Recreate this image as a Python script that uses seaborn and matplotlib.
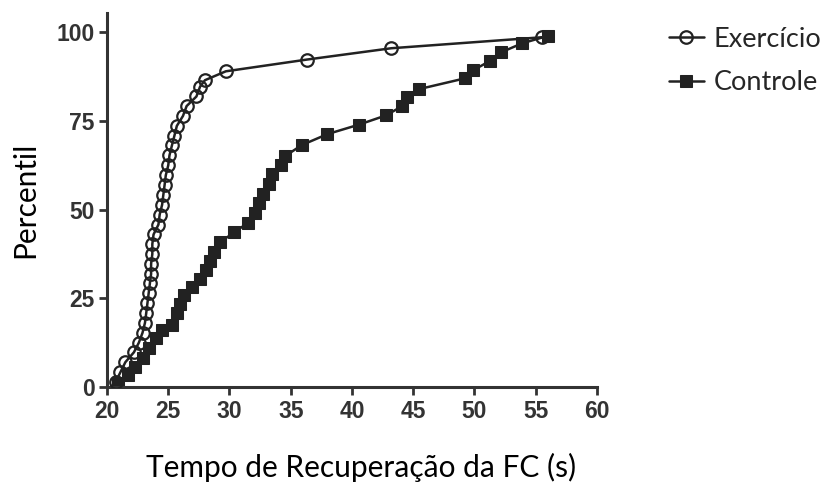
import matplotlib
matplotlib.use("Agg")
import matplotlib.pyplot as plt
import seaborn as sns
import pandas as pd

exercicio_x = [20.7, 21.1, 21.5, 22.2, 22.6, 22.9, 23.1, 23.2, 23.3, 23.4, 23.5, 23.6,
               23.6, 23.7, 23.7, 23.8, 24.2, 24.3, 24.5, 24.6, 24.7, 24.8, 25.0, 25.1,
               25.3, 25.5, 25.7, 26.2, 26.5, 27.3, 27.6, 28.0, 29.7, 36.3, 43.2, 55.5]
exercicio_y = [1.4, 4.2, 7.0, 9.8, 12.5, 15.3, 18.1, 20.8, 23.6, 26.4, 29.2, 31.9,
               34.7, 37.5, 40.3, 43.0, 45.8, 48.6, 51.4, 54.2, 56.9, 59.7, 62.5, 65.3,
               68.1, 70.8, 73.6, 76.4, 79.2, 81.9, 84.7, 86.5, 89.0, 92.3, 95.5, 98.6]

controle_x = [20.9, 21.7, 22.3, 22.9, 23.4, 24.0, 24.5, 25.3, 25.7, 26.0, 26.3, 26.9,
              27.6, 28.1, 28.4, 28.7, 29.2, 30.4, 31.5, 32.1, 32.4, 32.7, 33.2, 33.5,
              34.2, 34.5, 35.9, 38.0, 40.6, 42.8, 44.1, 44.5, 45.5, 49.2, 49.9, 51.3,
              52.2, 53.9, 56.0]
controle_y = [1.2, 3.4, 5.6, 8.3, 11.0, 13.8, 16.2, 17.5, 21.0, 23.5, 26.0, 28.2,
              30.5, 33.0, 35.5, 38.0, 40.8, 43.6, 46.3, 49.0, 51.8, 54.5, 57.2, 60.0,
              62.7, 65.0, 68.2, 71.3, 74.0, 76.6, 79.2, 81.8, 84.0, 87.0, 89.3, 92.0,
              94.4, 96.9, 99.0]

x_ticks = [20, 25, 30, 35, 40, 45, 50, 55, 60]
y_ticks = [0, 25, 50, 75, 100]
series_names = ["Exercício", "Controle"]

sns.set_style("ticks")
plt.rcParams['font.family'] = ['Liberation Sans', 'DejaVu Sans']

fig = plt.figure(figsize=(8.34, 4.86), dpi=100)
ax = fig.add_axes([0.1283, 0.2037, 0.5875, 0.770])

dark = "#222222"
df_e = pd.DataFrame({"x": exercicio_x, "y": exercicio_y})
df_c = pd.DataFrame({"x": controle_x, "y": controle_y})

sns.lineplot(data=df_e, x="x", y="y", ax=ax, estimator=None, sort=False,
             color=dark, linewidth=1.8, marker="o", markersize=9,
             markerfacecolor="none", markeredgecolor=dark, markeredgewidth=1.6,
             label=series_names[0], zorder=3)
sns.lineplot(data=df_c, x="x", y="y", ax=ax, estimator=None, sort=False,
             color=dark, linewidth=1.8, marker="s", markersize=8.5,
             markerfacecolor=dark, markeredgecolor=dark,
             label=series_names[1], zorder=2)

ax.set_xlim(20, 60)
ax.set_ylim(0, 105.5)
ax.set_xticks(x_ticks)
ax.set_yticks(y_ticks)
ax.set_xticklabels([str(t) for t in x_ticks])
ax.set_yticklabels([str(t) for t in y_ticks])

for side in ["top", "right"]:
    ax.spines[side].set_visible(False)
for side in ["left", "bottom"]:
    ax.spines[side].set_linewidth(2.2)
    ax.spines[side].set_color("#333333")
ax.tick_params(axis="both", direction="out", length=6, width=2, color="#333333",
               labelsize=16.5, labelcolor="#333333", pad=3)
for lab in ax.get_xticklabels() + ax.get_yticklabels():
    lab.set_fontweight("bold")

ax.set_xlabel("Tempo de Recuperação da FC (s)", fontsize=21.5, family=["Lato", "DejaVu Sans"],
              color="black")
ax.xaxis.set_label_coords(0.518, -0.175)
ax.set_ylabel("Percentil", fontsize=21.5, family=["Lato", "DejaVu Sans"],
              color="black", labelpad=12)

handles, labels = ax.get_legend_handles_labels()
ax.legend_.remove()
fig.legend(handles, labels, loc="upper left", bbox_to_anchor=(0.789, 0.967),
           frameon=False, prop={"family": ["Lato", "DejaVu Sans"], "size": 19.5},
           handlelength=1.3, handletextpad=0.35, labelspacing=0.68, borderaxespad=0)

fig.savefig("out.png", dpi=100)
